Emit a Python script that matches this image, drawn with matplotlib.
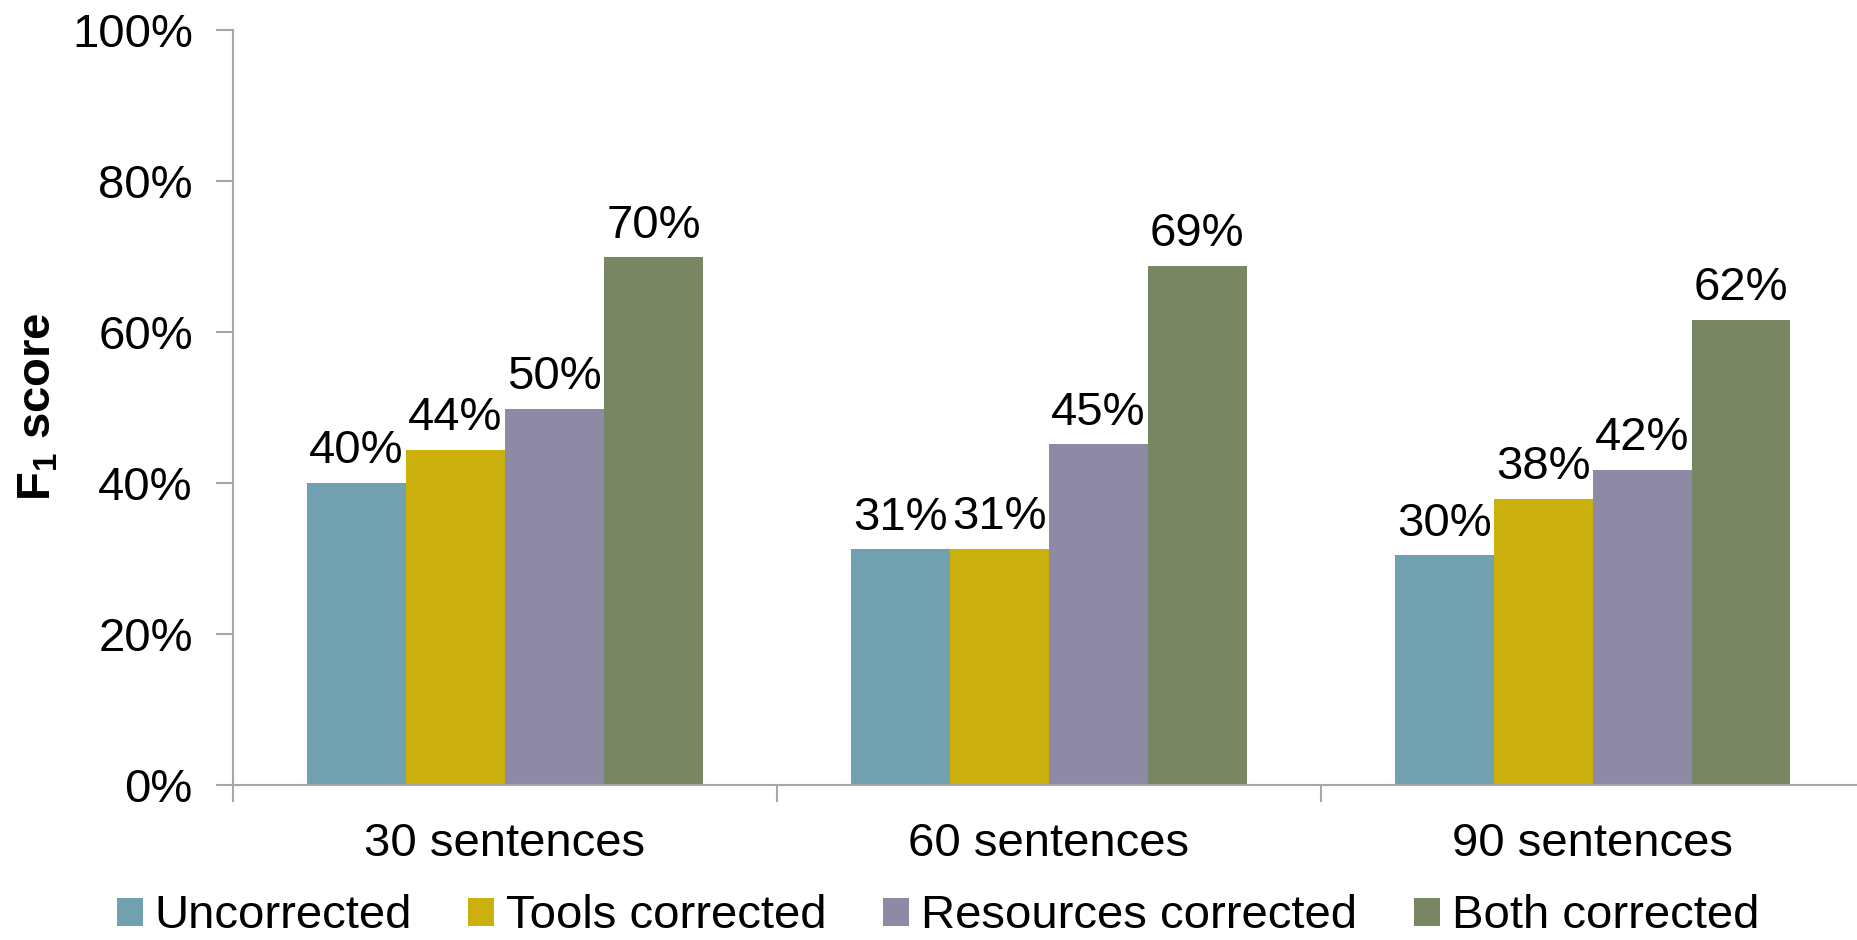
import matplotlib
matplotlib.use("Agg")
import matplotlib.pyplot as plt
import numpy as np

plt.rcParams['font.family'] = ['Liberation Sans', 'DejaVu Sans']
plt.rcParams['mathtext.fontset'] = 'custom'
plt.rcParams['mathtext.rm'] = 'Liberation Sans'
plt.rcParams['mathtext.bf'] = 'Liberation Sans:bold'

categories = ["30 sentences", "60 sentences", "90 sentences"]
series = ["Uncorrected", "Tools corrected", "Resources corrected", "Both corrected"]
uncorrected = [40.0, 31.2, 30.4]
tools_corr = [44.4, 31.3, 37.9]
resources_corr = [49.8, 45.1, 41.7]
both_corr = [69.9, 68.8, 61.6]
values = [uncorrected, tools_corr, resources_corr, both_corr]
colors = ["#71A0B0", "#CBAF0D", "#8E89A5", "#788661"]

fig = plt.figure(figsize=(18.57, 9.4), dpi=100)
ax = fig.add_axes([0.1255, 0.165, 0.8785, 0.803])

x = np.arange(len(categories))
w = 0.182
fs = 34
for i, (name, vals, c) in enumerate(zip(series, values, colors)):
    bars = ax.bar(x + (i - 1.5) * w, vals, w, color=c, label=name)
    ax.bar_label(bars, labels=[f"{round(v):d}%" for v in vals],
                 padding=7, fontsize=fs)

ax.set_xlim(-0.5, 2.5)
ax.set_ylim(0, 100)
ax.set_yticks(range(0, 101, 20))
ax.set_yticklabels([f"{v}%" for v in range(0, 101, 20)])
ax.set_xticks(x)
ax.set_xticklabels(categories)
ax.set_xticks([-0.5, 0.5, 1.5, 2.5], minor=True)

for s in ["top", "right"]:
    ax.spines[s].set_visible(False)
for s in ["left", "bottom"]:
    ax.spines[s].set_color("#A6A6A6")
    ax.spines[s].set_linewidth(1.5)

ax.tick_params(axis="y", length=12, width=1.5, color="#A6A6A6",
               labelsize=fs, pad=17)
ax.tick_params(axis="x", which="major", length=0, labelsize=fs, pad=27)
ax.tick_params(axis="x", which="minor", length=12, width=1.5, color="#A6A6A6")

fig.text(0.021, 0.567, r"$\mathbf{F_1}$ score", rotation=90, fontsize=fs,
         fontweight="bold", ha="center", va="center")

fig.legend(loc="center", bbox_to_anchor=(0.505, 0.025), ncol=4, frameon=False,
           fontsize=fs, handlelength=0.55, handleheight=0.55,
           handletextpad=0.25, columnspacing=1.2, borderaxespad=0)

fig.savefig("out.png", dpi=100)
